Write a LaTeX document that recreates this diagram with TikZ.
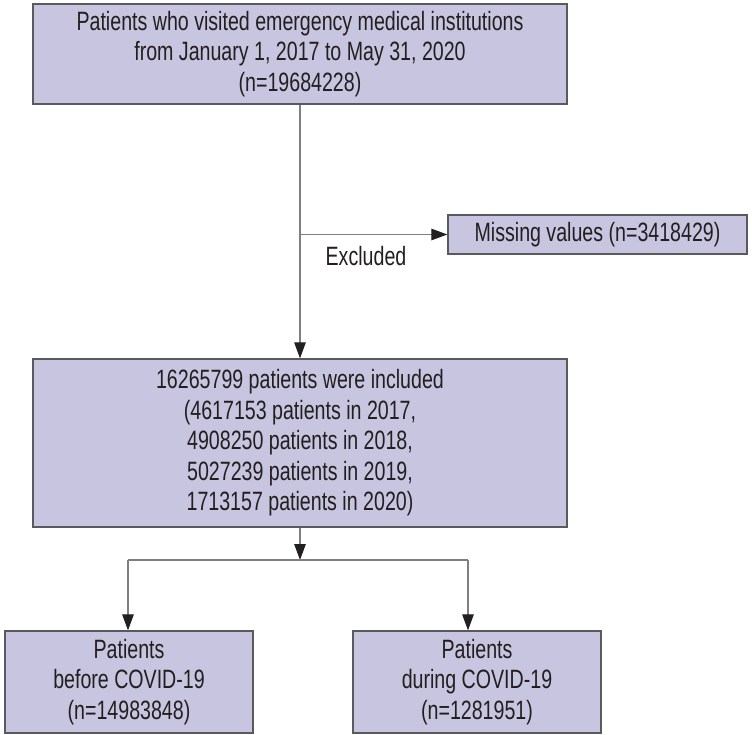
\documentclass[tikz,border=0pt]{standalone}
\usepackage{fontspec}
\setmainfont{Liberation Sans}[FakeStretch=0.74]
\usetikzlibrary{arrows.meta}
\definecolor{boxfill}{HTML}{C7C5DF}
\definecolor{boxline}{HTML}{5A5A5E}
\definecolor{conn}{HTML}{7F7F7F}
\definecolor{ink}{HTML}{231F20}
\tikzset{
  flowbox/.style={draw=boxline, line width=1.3pt, fill=boxfill, inner sep=0pt,
    align=center, text=ink, font=\fontsize{26.5}{30.5}\selectfont},
  conline/.style={draw=conn, line width=1.1pt},
  conarrow/.style={conline, -{Triangle[length=16pt,width=11.5pt,fill=ink,color=ink]}},
}
\begin{document}
\begin{tikzpicture}[x=1pt,y=-1pt]
\useasboundingbox (0,0) rectangle (752,735);
\node[flowbox, minimum width=534pt, minimum height=100pt] (top) at (300,54)
  {Patients who visited emergency medical institutions\\from January 1, 2017 to May 31, 2020\\(n=19684228)};
\node[flowbox, minimum width=299pt, minimum height=39pt] (miss) at (597.5,234.5)
  {Missing values (n=3418429)};
\node[flowbox, minimum width=534pt, minimum height=168pt] (mid) at (300,443)
  {16265799 patients were included\\(4617153 patients in 2017,\\4908250 patients in 2018,\\5027239 patients in 2019,\\1713157 patients in 2020)};
\node[flowbox, minimum width=248pt, minimum height=102pt] (left) at (129,682)
  {Patients\\before COVID-19\\(n=14983848)};
\node[flowbox, minimum width=248pt, minimum height=102pt] (right) at (477,682)
  {Patients\\during COVID-19\\(n=1281951)};
\coordinate (branch) at (300,234.5);
\coordinate (split) at (300,560);
\coordinate (splitL) at (128,560);
\coordinate (splitR) at (468,560);
\node[text=ink, inner sep=0pt, font=\fontsize{26.5}{30}\selectfont] (excl) at (366,256) {Excluded};
\draw[conarrow] (top.south) -- (mid.north);
\draw[conarrow] (branch) -- (miss.west);
\draw[conarrow] (mid.south) -- (split);
\draw[conline] (splitL) -- (splitR);
\draw[conarrow] (splitL) -- (splitL |- left.north);
\draw[conarrow] (splitR) -- (splitR |- right.north);
\end{tikzpicture}
\end{document}
